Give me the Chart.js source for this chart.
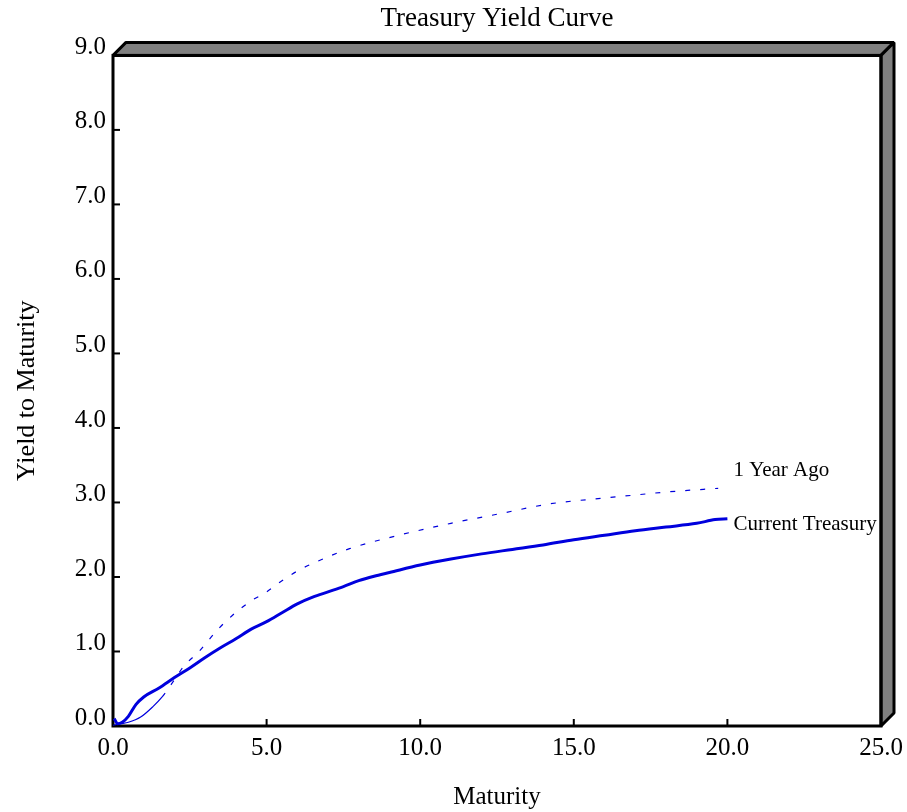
<!DOCTYPE html>
<html>
<head>
<meta charset="utf-8">
<title>Treasury Yield Curve</title>
<script src="https://cdn.jsdelivr.net/npm/chart.js@4.4.0/dist/chart.umd.min.js"></script>
<style>
html, body { margin: 0; padding: 0; background: #fff; }
canvas { display: block; }
</style>
</head>
<body>
<canvas id="myChart" width="907" height="812"></canvas>
<script>
// values
var currentMaturity = [0.04, 0.15, 0.3, 0.5, 0.75, 1.0, 1.5, 2.0, 2.5, 3.0, 3.5, 4.0, 4.5, 5.0, 5.5, 6.0, 6.5, 7.0, 7.5, 8.0, 8.5, 9.0, 10.0, 11.0, 12.0, 13.0, 14.0, 15.0, 16.0, 17.0, 18.0, 19.0, 19.6, 20.0];
var currentYield    = [0.10, 0.03, 0.05, 0.13, 0.29, 0.39, 0.51, 0.65, 0.78, 0.92, 1.05, 1.17, 1.30, 1.40, 1.52, 1.64, 1.73, 1.80, 1.87, 1.95, 2.01, 2.06, 2.16, 2.24, 2.31, 2.37, 2.43, 2.50, 2.56, 2.62, 2.67, 2.72, 2.77, 2.78];

var yearAgoMaturity = [0.0, 0.25, 0.5, 0.9, 1.3, 1.6, 2.0, 2.3, 2.8, 3.4, 3.9, 4.5, 5.0, 5.5, 6.0, 6.6, 7.7, 9.3, 11.0, 12.6, 14.2, 16.0, 17.0, 18.0, 19.7];
var yearAgoYield    = [0.01, 0.03, 0.05, 0.12, 0.26, 0.39, 0.62, 0.80, 1.00, 1.29, 1.49, 1.68, 1.80, 1.95, 2.08, 2.20, 2.38, 2.56, 2.72, 2.85, 2.98, 3.06, 3.10, 3.14, 3.19];

var seriesNames = ["Current Treasury", "1 Year Ago"];
var xTickValues = [0, 5, 10, 15, 20, 25];
var yTickValues = [0, 1, 2, 3, 4, 5, 6, 7, 8, 9];

var SERIF = "'Liberation Serif', 'Times New Roman', serif";
Chart.defaults.font.family = SERIF;
Chart.defaults.color = '#000';

function toPoints(xs, ys) {
    return xs.map(function(x, i) { return { x: x, y: ys[i] }; });
}

// gray 3D frame, box and inward tick marks
var framePlugin = {
    id: 'frame',
    beforeDatasetsDraw: function(chart) {
        var a = chart.chartArea, c = chart.ctx, d = 13;
        c.save();
        c.fillStyle = '#808080';
        c.strokeStyle = '#000';
        c.lineWidth = 3;
        c.lineJoin = 'bevel';

        c.beginPath();
        c.moveTo(a.left, a.top);
        c.lineTo(a.left + d, a.top - d);
        c.lineTo(a.right + d, a.top - d);
        c.lineTo(a.right, a.top);
        c.closePath();
        c.fill();
        c.stroke();

        c.beginPath();
        c.moveTo(a.right, a.top);
        c.lineTo(a.right + d, a.top - d);
        c.lineTo(a.right + d, a.bottom - d);
        c.lineTo(a.right, a.bottom);
        c.closePath();
        c.fill();
        c.stroke();

        c.lineJoin = 'miter';
        c.strokeRect(a.left, a.top, a.right - a.left, a.bottom - a.top);

        var xs = chart.scales.x, ys = chart.scales.y;
        c.lineWidth = 2;
        xs.ticks.forEach(function(t) {
            var px = xs.getPixelForValue(t.value);
            c.beginPath();
            c.moveTo(px, a.bottom);
            c.lineTo(px, a.bottom - 7);
            c.stroke();
        });
        ys.ticks.forEach(function(t) {
            var py = ys.getPixelForValue(t.value);
            c.beginPath();
            c.moveTo(a.left, py);
            c.lineTo(a.left + 7, py);
            c.stroke();
        });
        c.restore();
    },
    // series names at the end of each line
    afterDatasetsDraw: function(chart) {
        var c = chart.ctx;
        var xs = chart.scales.x;
        var shift = [6, -18];
        c.save();
        c.font = '21px ' + SERIF;
        c.fillStyle = '#000';
        c.textAlign = 'left';
        c.textBaseline = 'middle';
        chart.data.datasets.forEach(function(ds, i) {
            var meta = chart.getDatasetMeta(i);
            var last = meta.data[meta.data.length - 1];
            c.fillText(ds.label, xs.getPixelForValue(20) + 6, last.y + shift[i]);
        });
        c.restore();
    }
};

var ctx = document.getElementById("myChart").getContext('2d');
var yieldChart = new Chart(ctx, {
    type: 'line',
    data: {
        datasets: [{
            label: seriesNames[0],
            data: toPoints(currentMaturity, currentYield),
            borderColor: '#0000dd',
            borderWidth: 3,
            pointRadius: 0,
            fill: false,
            cubicInterpolationMode: 'monotone'
        }, {
            label: seriesNames[1],
            data: toPoints(yearAgoMaturity, yearAgoYield),
            borderColor: '#0000dd',
            borderWidth: 1.2,
            borderDash: [5, 10],
            pointRadius: 0,
            fill: false,
            cubicInterpolationMode: 'monotone',
            segment: {
                // short segments near zero come out solid in the original
                borderDash: function(s) { return s.p0.parsed.x < 1.6 ? [] : undefined; }
            }
        }]
    },
    options: {
        responsive: false,
        animation: false,
        layout: { padding: { left: 0, top: 0, right: 26, bottom: 0 } },
        plugins: {
            legend: { display: false },
            tooltip: { enabled: false },
            title: {
                display: true,
                fullSize: false,
                text: 'Treasury Yield Curve',
                color: '#000',
                font: { family: SERIF, size: 27, weight: 'normal' },
                padding: { top: 3, bottom: 20 }
            }
        },
        scales: {
            x: {
                type: 'linear',
                position: 'bottom',
                min: 0,
                max: 25,
                afterBuildTicks: function(s) { s.ticks = xTickValues.map(function(v) { return { value: v }; }); },
                afterFit: function(s) { s.height = 86; s.paddingLeft = 0; s.paddingRight = 0; },
                grid: { display: false, drawTicks: false },
                border: { display: false },
                ticks: {
                    font: { family: SERIF, size: 25 },
                    color: '#000',
                    padding: 7,
                    maxRotation: 0,
                    autoSkip: false,
                    callback: function(v) { return Number(v).toFixed(1); }
                },
                title: {
                    display: true,
                    text: 'Maturity',
                    color: '#000',
                    font: { family: SERIF, size: 25 },
                    padding: { top: 0, bottom: 0 }
                }
            },
            y: {
                type: 'linear',
                min: 0,
                max: 9,
                afterBuildTicks: function(s) { s.ticks = yTickValues.map(function(v) { return { value: v }; }); },
                afterFit: function(s) { s.width = 113; },
                grid: { display: false, drawTicks: false },
                border: { display: false },
                ticks: {
                    font: { family: SERIF, size: 25 },
                    color: '#000',
                    padding: 7,
                    labelOffset: -8,
                    autoSkip: false,
                    callback: function(v) { return Number(v).toFixed(1); }
                },
                title: {
                    display: true,
                    text: 'Yield to Maturity',
                    color: '#000',
                    font: { family: SERIF, size: 26 },
                    padding: { top: 12, bottom: 0 }
                }
            }
        }
    },
    plugins: [framePlugin]
});
</script>
</body>
</html>
